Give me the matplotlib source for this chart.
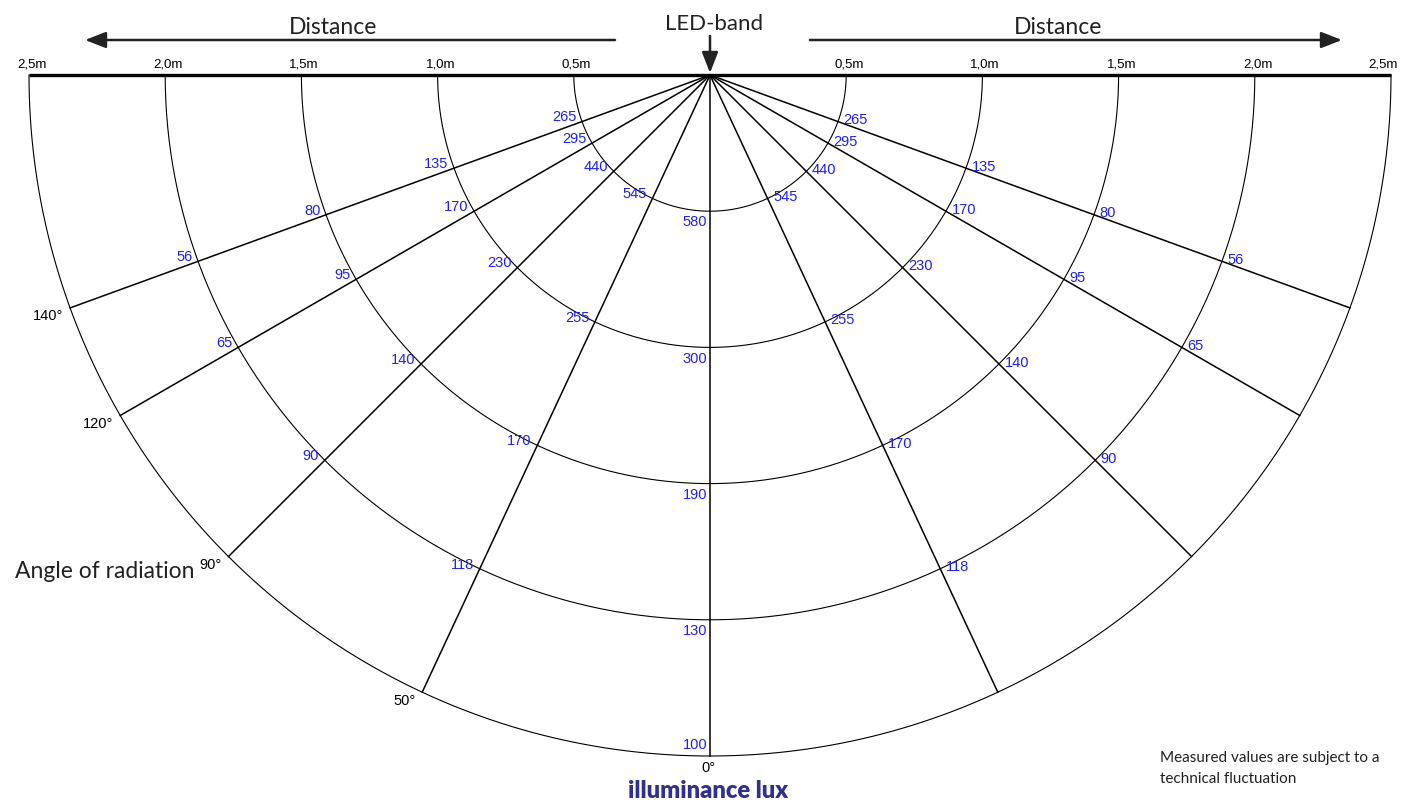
import numpy as np
import matplotlib
matplotlib.use('Agg')
import matplotlib.pyplot as plt

# beam layout: distance rings (m) and half angles of the rays (deg)
distances = [0.5, 1.0, 1.5, 2.0, 2.5]
ring_labels = ['0,5m', '1,0m', '1,5m', '2,0m', '2,5m']
half_angles = [0, 25, 45, 60, 70]
beam_labels = ['0°', '50°', '90°', '120°', '140°']

# illuminance in lux read along each ray, from 0.5m outwards
lux_0 = [580, 300, 190, 130, 100]
lux_50 = [545, 255, 170, 118]
lux_90 = [440, 230, 140, 90]
lux_120 = [295, 170, 95, 65]
lux_140 = [265, 135, 80, 56]
lux_values = [lux_0, lux_50, lux_90, lux_120, lux_140]

W, H = 1405, 801
CX, CY = 710, 75          # pixel position of the LED-band
SCALE = 681 / 2.5         # pixels per metre

num_font = 'Liberation Sans'
txt_font = 'Lato'
blue = '#1f1fff'


def pt(px, py):
    # pixel position -> data position in metres
    return (px - CX) / SCALE, (CY - py) / SCALE


fig = plt.figure(figsize=(W / 100, H / 100), dpi=100)
ax = fig.add_axes([0, 0, 1, 1])
ax.set_xlim(-CX / SCALE, (W - CX) / SCALE)
ax.set_ylim(-(H - CY) / SCALE, CY / SCALE)
ax.set_aspect('equal')
ax.axis('off')

# rings
t = np.linspace(np.pi, 2 * np.pi, 400)
for d, lab in zip(distances, ring_labels):
    ax.plot(d * np.cos(t), d * np.sin(t), color='black', lw=0.8)
    for side in (-1, 1):
        dx = -6 if (side > 0 and d == distances[-1]) else 2
        ax.annotate(lab, (side * d, 0), xytext=(dx, 3), textcoords='offset points',
                    ha='center', va='bottom', fontsize=9.5, family=num_font)

# top line
ax.plot([-distances[-1], distances[-1]], [0, 0], color='black', lw=2.4,
        solid_capstyle='butt')

# rays
rmax = distances[-1]
for a, blab, vals in zip(half_angles, beam_labels, lux_values):
    ar = np.radians(a)
    sides = (1,) if a == 0 else (-1, 1)
    for side in sides:
        ax.plot([0, side * rmax * np.sin(ar)], [0, -rmax * np.cos(ar)],
                color='black', lw=1.1)
        for d, v in zip(distances, vals):
            x, y = side * d * np.sin(ar), -d * np.cos(ar)
            if a == 0:
                off = (-2, 8) if d == rmax else (-2, -8)
                ax.annotate(str(v), (x, y), xytext=off, textcoords='offset points',
                            ha='right', va='center', fontsize=10.5, color=blue,
                            family=num_font)
            elif side < 0:
                ax.annotate(str(v), (x, y), xytext=(-4, 3), textcoords='offset points',
                            ha='right', va='center', fontsize=10.5, color=blue,
                            family=num_font)
            else:
                ax.annotate(str(v), (x, y), xytext=(4, 1), textcoords='offset points',
                            ha='left', va='center', fontsize=10.5, color=blue,
                            family=num_font)
    # beam angle label at the left end of each ray
    ex, ey = -rmax * np.sin(ar), -rmax * np.cos(ar)
    if a == 0:
        ax.annotate(blab, (ex, ey), xytext=(-1, -9), textcoords='offset points',
                    ha='center', va='center', fontsize=10.5, family=num_font)
    else:
        ax.annotate(blab, (ex, ey), xytext=(-5, -6), textcoords='offset points',
                    ha='right', va='center', fontsize=10.5, family=num_font)

# arrows and titles
arrow = dict(arrowstyle='-|>,head_length=0.9,head_width=0.35', color='#222222',
             lw=1.8, mutation_scale=14, shrinkA=0, shrinkB=0)
ax.annotate('', xy=pt(85, 40), xytext=pt(615, 40), arrowprops=arrow)
ax.annotate('', xy=pt(1342, 40), xytext=pt(810, 40), arrowprops=arrow)
ax.annotate('', xy=pt(710, 73), xytext=pt(710, 36), arrowprops=arrow)

ax.text(*pt(333, 28), 'Distance', ha='center', va='center', fontsize=16.5,
        family=txt_font, color='#222222')
ax.text(*pt(1058, 28), 'Distance', ha='center', va='center', fontsize=16.5,
        family=txt_font, color='#222222')
ax.text(*pt(714, 24), 'LED-band', ha='center', va='center', fontsize=16,
        family=txt_font, color='#222222')
ax.text(*pt(15, 572), 'Angle of radiation', ha='left', va='center', fontsize=16.5,
        family=txt_font, color='#222222')
ax.text(*pt(708, 791), 'illuminance lux', ha='center', va='center', fontsize=17,
        fontweight='heavy', family=txt_font, color='#2e3192')
ax.text(*pt(1160, 758), 'Measured values are subject to a', ha='left',
        va='center', fontsize=11, family=txt_font, color='#222222')
ax.text(*pt(1160, 779), 'technical fluctuation', ha='left', va='center',
        fontsize=11, family=txt_font, color='#222222')

fig.savefig('out.png', dpi=100)
